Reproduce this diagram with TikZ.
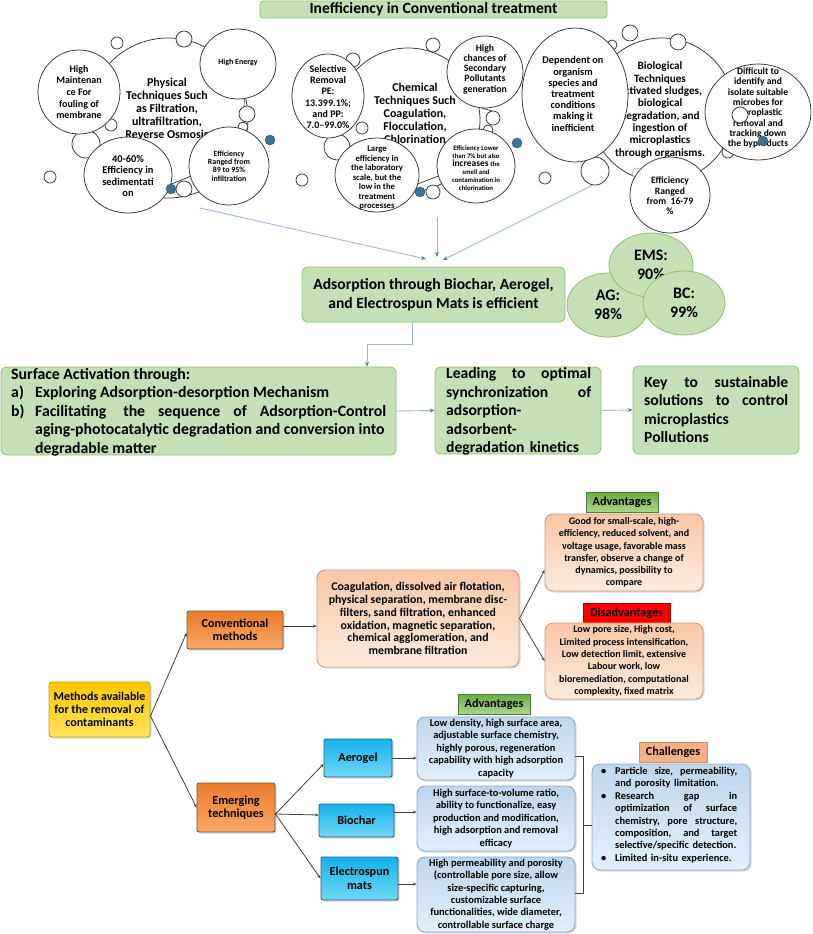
\documentclass[tikz,border=0pt]{standalone}
\usepackage{fontspec}
\setmainfont{Carlito}
\usetikzlibrary{shapes.geometric,arrows.meta,shadows}
\newcommand{\myfs}[2]{\fontsize{#1}{#2}\selectfont\bfseries}
\definecolor{gfill}{HTML}{C5E0B4}
\definecolor{gline}{HTML}{8DBE6C}
\definecolor{dotc}{HTML}{3B7391}
\definecolor{arrc}{HTML}{9DB9DA}
\definecolor{arrh}{HTML}{4A7EB0}
\definecolor{gold1}{HTML}{FFC800}
\definecolor{gold2}{HTML}{FFE45C}
\definecolor{goldd}{HTML}{C9A000}
\definecolor{or1}{HTML}{EE7A2C}
\definecolor{or2}{HTML}{F8A868}
\definecolor{ord}{HTML}{6E5A3C}
\definecolor{cy1}{HTML}{14B2EA}
\definecolor{cy2}{HTML}{70D8F6}
\definecolor{cyd}{HTML}{2A5E80}
\definecolor{pe1}{HTML}{F8C7A6}
\definecolor{pe2}{HTML}{FDEBDC}
\definecolor{ped}{HTML}{D09A78}
\definecolor{bl1}{HTML}{BDD7EE}
\definecolor{bl2}{HTML}{E3EFFA}
\definecolor{bld}{HTML}{8EA9C8}
\definecolor{ad1}{HTML}{6BAA45}
\definecolor{ad2}{HTML}{A9D78E}
\definecolor{add}{HTML}{4E7F30}
\definecolor{chf}{HTML}{F4B183}
\definecolor{chd}{HTML}{E08A50}
\tikzset{
  bub/.style={ellipse, draw=black!80, line width=0.75pt, fill=white, inner sep=0pt},
  sm/.style={circle, draw=black!80, line width=0.75pt, fill=white, inner sep=0pt},
  tdot/.style={circle, draw=dotc!70!black, fill=dotc, inner sep=0pt, minimum size=10pt},
  btxt/.style={align=center, inner sep=0pt, text=black},
  cl/.style={draw=black!80, line width=0.7pt},
  gbox/.style={draw=gline, fill=gfill, line width=0.8pt, rounded corners=6pt, inner sep=0pt, align=center},
  gell/.style={ellipse, draw=gline, fill=gfill, line width=0.8pt, inner sep=0pt, align=center, font=\myfs{16}{19}},
  barr/.style={draw=arrc, line width=0.9pt, -{Stealth[length=5pt,width=4pt,color=arrh]}},
  shad/.style={drop shadow={shadow xshift=1.5pt, shadow yshift=-1.5pt, opacity=0.3}},
  methbox/.style={shad, draw=goldd, top color=gold1, bottom color=gold2, line width=0.9pt, rounded corners=3pt, inner sep=0pt, align=center, font=\myfs{12}{13}},
  orbox/.style={shad, draw=ord, top color=or1, bottom color=or2, line width=0.9pt, rounded corners=2pt, inner sep=0pt, align=center, font=\myfs{12.2}{13}},
  cybox/.style={shad, draw=cyd, top color=cy1, bottom color=cy2, line width=0.9pt, rounded corners=2pt, inner sep=0pt, align=center, font=\myfs{12.2}{14}},
  pebox/.style={shad, draw=ped, top color=pe1, bottom color=pe2, line width=0.9pt, rounded corners=8pt, inner sep=0pt, align=center},
  blbox/.style={shad, draw=bld, top color=bl1, bottom color=bl2, line width=0.9pt, rounded corners=8pt, inner sep=0pt, align=center, font=\myfs{10.4}{12.4}},
  advlab/.style={draw=add, top color=ad1, bottom color=ad2, line width=0.9pt, inner sep=0pt, font=\myfs{12.2}{13}},
  dislab/.style={draw=red!70!black, fill=red, line width=0.9pt, inner sep=0pt, font=\myfs{12.2}{13}},
  chlab/.style={draw=chd, fill=chf, line width=0.9pt, inner sep=0pt, font=\myfs{12.2}{13}},
  tline/.style={draw=black!75, line width=0.8pt},
  tarr/.style={draw=black!75, line width=0.8pt, -{Stealth[length=3.5pt,width=3pt]}}
}
\begin{document}
\begin{tikzpicture}[x=1pt,y=-1pt]
\useasboundingbox (0,0) rectangle (813,934);
% ---------- title
\node[gbox, rounded corners=3pt, minimum width=347pt, minimum height=17pt, font=\myfs{15.6}{17}] (title) at (433.5,9.5) {Inefficiency in Conventional treatment};

% ---------- group 1 : physical
\node[bub, minimum width=160pt, minimum height=160pt] (g1) at (168,118) {};
\node[btxt, font=\myfs{12}{13}] (g1t) at (167,108) {Physical\\Techniques Such\\as Filtration,\\ultrafiltration,\\Reverse Osmosis};
\node[sm, minimum size=12pt] (g1s1) at (117,43) {};
\node[sm, minimum size=16pt] (g1s2) at (184,39) {};
\node[sm, minimum size=16pt] (g1s3) at (247,114) {};
\node[sm, minimum size=10pt] (g1s4) at (243,127) {};
\node[sm, minimum size=12pt] (g1s5) at (111,125) {};
\node[sm, minimum size=28pt] (g1s6) at (86,144) {};
\node[sm, minimum size=12pt] (g1s7) at (50,177) {};
\node[sm, minimum size=16pt] (g1s8) at (184,189) {};
\node[bub, minimum width=82pt, minimum height=84pt] (hm) at (79,92) {};
\node[btxt, font=\myfs{10}{11.7}] (hmt) at (79,92) {High\\Maintenan\\ce For\\fouling of\\membrane};
\node[bub, minimum width=76pt, minimum height=70pt] (he) at (238,64) {};
\node[btxt, font=\myfs{8}{9}] (het) at (238,62) {High Energy};
\node[bub, minimum width=88pt, minimum height=76pt] (s60) at (128,175) {};
\node[btxt, font=\myfs{10.4}{11.3}] (s60t) at (128,176) {40-60\%\\Efficiency in\\sedimentati\\on};
\node[bub, minimum width=80pt, minimum height=78pt] (ef1) at (229,166) {};
\node[btxt, font=\myfs{7.9}{8.3}] (ef1t) at (229,166) {Efficiency\\Ranged from\\89 to 95\%\\infiltration};
\draw[cl] (he.-80) -- (g1s3.110);
\draw[cl] (s60.-12) -- (ef1.-165);

% ---------- group 2 : chemical
\node[bub, minimum width=144pt, minimum height=144pt] (g2) at (408,120) {};
\node[btxt, font=\myfs{12}{13}] (g2t) at (415,113) {Chemical\\Techniques Such\\Coagulation,\\Flocculation,\\Chlorination};
\node[sm, minimum size=14pt] (g2s1) at (353,60) {};
\node[sm, minimum size=14pt] (g2s2) at (433,45) {};
\node[sm, minimum size=26pt] (g2s3) at (337,147) {};
\node[sm, minimum size=12pt] (g2s4) at (362,128) {};
\node[sm, minimum size=12pt] (g2s5) at (302,180) {};
\node[sm, minimum size=14pt] (g2s6) at (433,192) {};
\node[sm, minimum size=14pt] (g2s7) at (493,118) {};
\node[sm, minimum size=10pt] (g2s8) at (488,130) {};
\node[bub, minimum width=72pt, minimum height=84pt] (sr) at (328,96) {};
\node[btxt, font=\myfs{10}{11.2}] (srt) at (328,97) {Selective\\Removal\\PE:\\13.399.1\%;\\and PP:\\7.0–99.0\%};
\node[bub, minimum width=76pt, minimum height=72pt] (hc) at (485,72) {};
\node[btxt, font=\myfs{9.8}{10.3}] (hct) at (485,69) {High\\chances of\\Secondary\\Pollutants\\generation};
\node[bub, minimum width=84pt, minimum height=74pt] (le) at (377,175) {};
\node[btxt, font=\myfs{8.7}{9.5}] (let) at (377,178) {Large\\efficiency in\\the laboratory\\scale, but the\\low in the\\treatment\\processes};
\node[bub, minimum width=78pt, minimum height=74pt] (el) at (476,166) {};
\node[btxt, font=\myfs{6.8}{7.9}] (elt) at (476,168) {Efficiency Lower\\than 7\% but also\\{\fontsize{9.5}{7.9}\selectfont increases} the\\smell and\\contamination in\\chlorination};
\draw[cl] (hc.-95) -- (g2s7.100);
\draw[cl] (le.-12) -- (el.-165);

% ---------- group 3 : biological
\node[bub, minimum width=144pt, minimum height=144pt] (g3) at (662,110) {};
\node[btxt, font=\myfs{11.2}{12.3}] (g3t) at (660,110) {Biological\\Techniques\\Activated sludges,\\biological\\degradation, and\\ingestion of\\microplastics\\through organisms.};
\node[sm, minimum size=16pt] (g3s1) at (630,33) {};
\node[sm, minimum size=16pt] (g3s2) at (678,42) {};
\node[sm, minimum size=10pt] (g3s3) at (612,45) {};
\node[sm, minimum size=28pt] (g3s4) at (595,171) {};
\node[sm, minimum size=12pt] (g3s5) at (545,178) {};
\node[sm, minimum size=12pt] (g3s6) at (728,152) {};
\node[sm, draw=arrc, minimum size=10pt] (g3s7) at (637,173) {};
\node[bub, minimum width=106pt, minimum height=134pt] (de) at (575,95) {};
\node[btxt, font=\myfs{10.3}{11.2}] (det) at (573,94) {Dependent on\\organism\\species and\\treatment\\conditions\\making it\\inefficient};
\node[bub, minimum width=106pt, minimum height=96pt] (di) at (758,112) {};
\node[btxt, font=\myfs{9.6}{10.3}] (dit) at (758,108) {Difficult to\\identify and\\isolate suitable\\microbes for\\microplastic\\removal and\\tracking down\\the byproducts};
\node[bub, minimum width=80pt, minimum height=76pt] (ef3) at (670,195) {};
\node[btxt, font=\myfs{9.7}{10.3}] (ef3t) at (670,196) {Efficiency\\Ranged\\from\ \ 16-79\\\%};
\node[sm, minimum size=16pt] (g3s8) at (740,115) {};

% teal dots
\node[tdot] (d1) at (171,189) {};
\node[tdot] (d2) at (270,140) {};
\node[tdot] (d3) at (420,192) {};
\node[tdot] (d4) at (517,143) {};
\node[tdot] (d5) at (763,141) {};

% ---------- adsorption
\node[gbox, minimum width=263pt, minimum height=55pt, font=\myfs{15.6}{18.5}] (ads) at (433.5,294.5) {Adsorption through Biochar, Aerogel,\\and Electrospun Mats is efficient};
\node[gell, minimum width=82pt, minimum height=64pt] (ag) at (608,305) {AG:\\98\%};
\node[gell, minimum width=84pt, minimum height=64pt] (ems) at (651,265) {EMS:\\90\%};
\node[gell, minimum width=82pt, minimum height=64pt] (bc) at (684,303) {BC:\\99\%};

\coordinate (a1s) at (200,208);
\coordinate (a1e) at (426,259);
\coordinate (a2s) at (437,217);
\coordinate (a2e) at (437,257);
\coordinate (a3e) at (443,260);
\draw[barr] (a1s) -- (a1e);
\draw[barr] (a2s) -- (a2e);
\draw[barr] (g3s4.-100) -- (a3e);

% ---------- surface / leading / key
\node[gbox, minimum width=395pt, minimum height=88pt] (surf) at (198.5,411) {};
\node[anchor=north west, inner sep=0pt, align=left, font=\myfs{15.8}{18.5}] (surft) at (11,368) {Surface Activation through:\\
\makebox[24pt][l]{a)}Exploring Adsorption-desorption Mechanism\\
\makebox[24pt][l]{b)}\makebox[351pt][l]{Facilitating\hspace{4pt}\hfill the\hfill sequence\hfill of\hfill Adsorption-Control}\\
\hspace*{24pt}aging-photocatalytic degradation and conversion into\\
\hspace*{24pt}degradable matter};
\node[gbox, minimum width=166pt, minimum height=87pt] (lead) at (518,410.5) {};
\node[anchor=north west, inner sep=0pt, align=left, text width=145pt, font=\myfs{15.6}{18.5}] (leadt) at (446,367.5) {Leading\hfill to\hfill optimal\\synchronization\hfill of\\adsorption-\\adsorbent-\\degradation kinetics};
\node[gbox, minimum width=166pt, minimum height=88pt] (key) at (716,410) {};
\node[anchor=north west, inner sep=0pt, align=left, text width=144pt, font=\myfs{15.6}{18.5}] (keyt) at (644,376) {Key\hfill to\hfill sustainable\\solutions\hfill to\hfill control\\microplastics\\Pollutions};

\draw[barr] ([xshift=-21.5pt]ads.south) -- ++(0,22) -| ([xshift=168.5pt]surf.north);
\draw[barr] (surf.east) -- (lead.west);
\draw[barr] (lead.east) -- (key.west);

% ---------- bottom tree
\node[methbox, minimum width=101pt, minimum height=55pt] (meth) at (99.5,709.5) {Methods available\\for the removal of\\contaminants};
\node[orbox, minimum width=96pt, minimum height=38pt] (conv) at (235,630) {Conventional\\methods};
\node[orbox, minimum width=78pt, minimum height=49pt] (emer) at (236,807.5) {Emerging\\techniques};
\node[cybox, minimum width=68pt, minimum height=38pt] (aero) at (358,758) {Aerogel};
\node[cybox, minimum width=75pt, minimum height=33pt] (bioc) at (356.5,820.5) {Biochar};
\node[cybox, minimum width=77pt, minimum height=43pt] (elec) at (359.5,878.5) {Electrospun\\mats};

\node[pebox, minimum width=202pt, minimum height=97pt, font=\myfs{11.8}{12.8}] (coag) at (418,618.5) {Coagulation, dissolved air flotation,\\physical separation, membrane disc-\\filters, sand filtration, enhanced\\oxidation, magnetic separation,\\chemical agglomeration, and\\membrane filtration};
\node[advlab, minimum width=72pt, minimum height=20pt] (advl1) at (622,502) {Advantages};
\node[pebox, minimum width=158pt, minimum height=77pt, font=\myfs{10}{12.3}] (advc) at (624,552.5) {Good for small-scale, high-\\efficiency, reduced solvent, and\\voltage usage, favorable mass\\transfer, observe a change of\\dynamics, possibility to\\compare};
\node[dislab, minimum width=87pt, minimum height=20pt] (disl) at (626.5,613) {Disadvantages};
\node[pebox, minimum width=158pt, minimum height=76pt, font=\myfs{10}{12.3}] (disc) at (624,661) {Low pore size, High cost,\\Limited process intensification,\\Low detection limit, extensive\\Labour work, low\\bioremediation, computational\\complexity, fixed matrix};

\node[advlab, minimum width=72pt, minimum height=20pt] (advl2) at (494,704) {Advantages};
\node[blbox, minimum width=158pt, minimum height=63pt] (aadv) at (496,748.5) {Low density, high surface area,\\adjustable surface chemistry,\\highly porous, regeneration\\capability with high adsorption\\capacity};
\node[blbox, minimum width=158pt, minimum height=65pt] (badv) at (496,818.5) {High surface-to-volume ratio,\\ability to functionalize, easy\\production and modification,\\high adsorption and removal\\efficacy};
\node[blbox, minimum width=158pt, minimum height=75pt] (eadv) at (496,894.5) {High permeability and porosity\\(controllable pore size, allow\\size-specific capturing,\\customizable surface\\functionalities, wide diameter,\\controllable surface charge};

\node[chlab, minimum width=68pt, minimum height=20pt] (chl) at (673,752) {Challenges};
\node[blbox, minimum width=158pt, minimum height=106pt] (chb) at (671,817) {};
\node[anchor=north west, inner sep=0pt, align=left, text width=140pt, font=\myfs{10.4}{12.4}] (chbt) at (601,767) {\makebox[14pt][l]{\textbullet}\makebox[122pt][l]{Particle\hfill size,\hfill permeability,}\\
\hspace*{14pt}and porosity limitation.\\
\makebox[14pt][l]{\textbullet}\makebox[122pt][l]{Research\hfill gap\hfill in}\\
\hspace*{14pt}\makebox[122pt][l]{optimization\hfill of\hfill surface}\\
\hspace*{14pt}\makebox[122pt][l]{chemistry,\hfill pore\hfill structure,}\\
\hspace*{14pt}\makebox[122pt][l]{composition,\hfill and\hfill target}\\
\hspace*{14pt}selective/specific detection.\\
\makebox[14pt][l]{\textbullet}Limited in-situ experience.};

% tree connectors
\draw[tarr] ([yshift=-6.5pt]meth.east) -- ([yshift=-3pt]conv.west);
\draw[tarr] ([yshift=-6.5pt]meth.east) -- (emer.west);
\draw[tarr] ([yshift=-6.5pt]emer.east) -- ([yshift=-6pt]aero.west);
\draw[tarr] ([yshift=-6.5pt]emer.east) -- ([yshift=5.5pt]bioc.west);
\draw[tarr] ([yshift=-6.5pt]emer.east) -- (elec.west);
\draw[tarr] ([yshift=4pt]conv.east) -- ([yshift=4pt]conv.east -| coag.west);
\draw[tarr] (coag.east) -- ([yshift=-17.5pt]advc.west);
\draw[tarr] (coag.east) -- (disc.west);
\draw[tarr] (aero.east) -- (aero.east -| aadv.west);
\draw[tarr] ([yshift=8.5pt]bioc.east) -- ([yshift=8.5pt]bioc.east -| badv.west);
\draw[tarr] ([yshift=-5.5pt]elec.east) -- ([yshift=-5.5pt]elec.east -| eadv.west);
\draw[tline] ([yshift=-7.5pt]aadv.east) -- ++(8,0) |- ([yshift=1.5pt]eadv.east);
\coordinate (brk) at (583,825);
\draw[tline] (brk) -- (brk -| chb.west);
\end{tikzpicture}
\end{document}
